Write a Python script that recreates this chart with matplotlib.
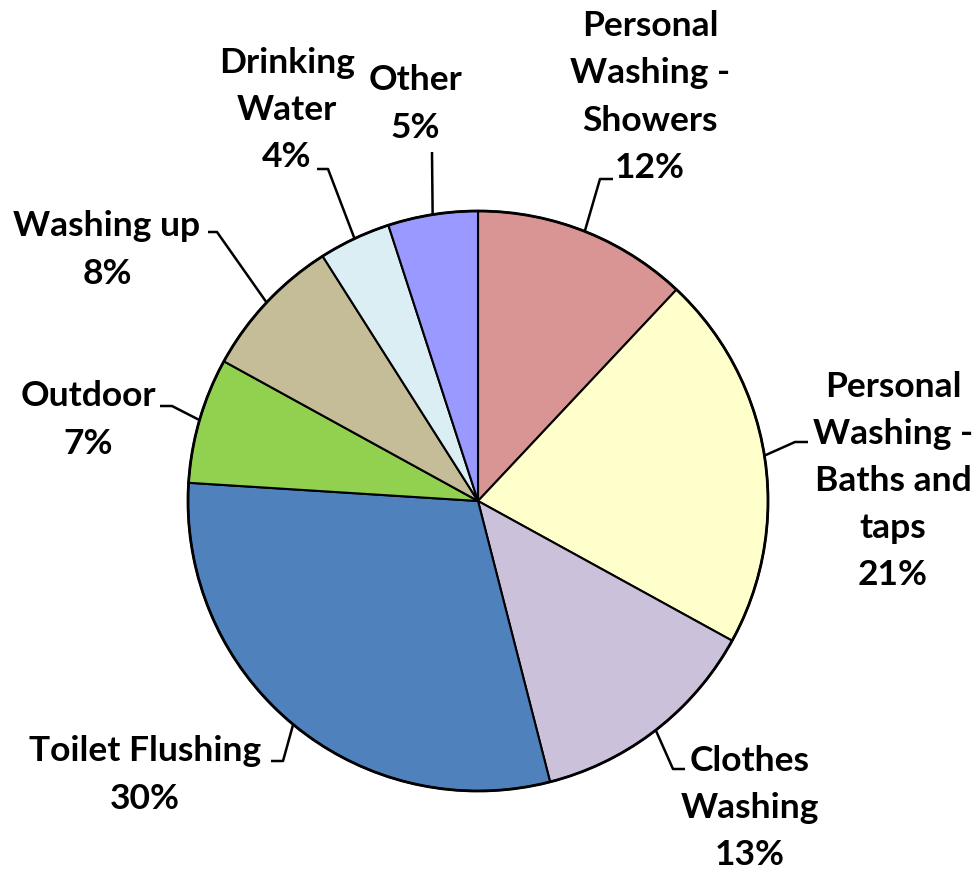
import numpy as np
import matplotlib
matplotlib.use("Agg")
import matplotlib.pyplot as plt

labels = ["Personal\nWashing -\nShowers", "Personal\nWashing -\nBaths and\ntaps",
          "Clothes\nWashing", "Toilet Flushing", "Outdoor", "Washing up",
          "Drinking\nWater", "Other"]
values = [12, 21, 13, 30, 7, 8, 4, 5]
colors = ["#D99594", "#FFFFCC", "#CCC1DA", "#4F81BD", "#92D050", "#C4BD97",
          "#DBEEF4", "#9999FF"]

W, H = 978, 870
CX, CY, R = 478, 502, 290  # pie centre / radius in pixels

# layout: text centre and leader elbow/end in pixel coordinates
text_pos = [(650, 97), (893, 481), (750, 808), (145, 775), (88, 420),
            (107, 250), (287, 110), (415, 104)]
elbows = [((600, 180), (613, 180)), ((795, 443), (808, 443)),
          ((673, 770), (685, 770)), ((283, 762), (271, 762)),
          ((172, 407), (160, 407)), ((217, 233), (208, 233)),
          ((328, 170), (317, 170)), ((432, 153), (432, 153))]

fig = plt.figure(figsize=(W / 100, H / 100), dpi=100)
ax = fig.add_axes([0, 0, 1, 1])

def px(p):
    return ((p[0] - CX) / R, (CY - p[1]) / R)

wedges, _ = ax.pie(values, colors=colors, startangle=90, counterclock=False,
                   radius=1.0, center=(0, 0),
                   wedgeprops=dict(edgecolor="black", linewidth=1.5))
ax.add_patch(plt.Circle((0, 0), 1.0, fill=False, edgecolor="black", linewidth=2))

for w, lab, v, tp, (e1, e2) in zip(wedges, labels, values, text_pos, elbows):
    mid = np.deg2rad((w.theta1 + w.theta2) / 2)
    ax0 = (np.cos(mid), np.sin(mid))
    p1, p2 = px(e1), px(e2)
    ax.plot([ax0[0], p1[0], p2[0]], [ax0[1], p1[1], p2[1]], color="black",
            lw=1.8, solid_capstyle="butt")
    t = px(tp)
    ax.text(t[0], t[1], f"{lab}\n{v}%", ha="center", va="center",
            fontsize=25.5, fontweight="bold", family="Lato", linespacing=1.58,
            color="black")

ax.set_xlim(-CX / R, (W - CX) / R)
ax.set_ylim(-(H - CY) / R, CY / R)
ax.set_aspect("auto")
ax.axis("off")
fig.savefig("out.png", dpi=100)
